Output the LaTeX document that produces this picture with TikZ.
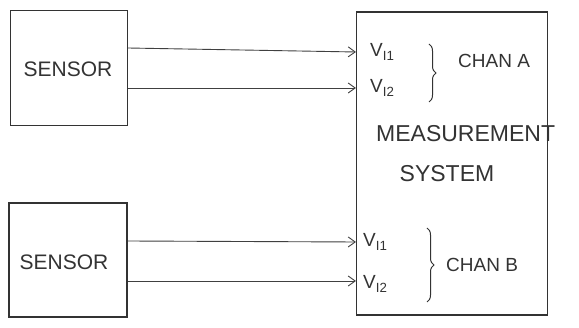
\documentclass[tikz,border=0pt]{standalone}
\usepackage{fontspec}
\setmainfont{Liberation Sans}
\usetikzlibrary{arrows.meta,decorations.pathreplacing}
\begin{document}
\begin{tikzpicture}[x=1pt,y=-1pt,
  ink/.style={draw=black!80, line width=1.1pt},
  box/.style={ink, rectangle, inner sep=0pt},
  wire/.style={draw=black!75, line width=0.9pt, -{Straight Barb[length=7pt,width=10pt,line width=0.9pt]}},
  lbl/.style={text=black!80, font=\fontsize{19}{21}\selectfont, inner sep=0pt},
  sub/.style={text=black!80, font=\fontsize{19}{21}\selectfont, inner sep=0pt},
  brc/.style={draw=black!80, line width=1pt, decorate, decoration={brace, amplitude=7pt}}]
\useasboundingbox (0,0) rectangle (579,328);
\fill[white] (0,0) rectangle (579,328);
% boxes
\node[box, minimum width=117pt, minimum height=115pt] (s1) at (69,68) {};
\node[box, minimum width=118pt, minimum height=114pt] (s2) at (68,260) {};
\node[box, minimum width=191pt, minimum height=303pt] (m) at (452,163.5) {};
% sensor texts
\node[lbl, font=\fontsize{21}{23}\selectfont] (t1) at (68,69) {SENSOR};
\node[lbl, font=\fontsize{21}{23}\selectfont] (t2) at (64,262) {SENSOR};
% wires
\draw[wire] ([yshift=20pt]s1.east) -- (m.west |- 0,52);
\draw[wire] ([yshift=-20pt]s1.east) -- (m.west |- 0,88);
\draw[wire] ([yshift=19pt]s2.east) -- (m.west |- 0,242);
\draw[wire] ([yshift=-21pt]s2.east) -- (m.west |- 0,281);
% channel A
\node[sub, anchor=west] (va1) at (370,52) {V\textsubscript{I1}};
\node[sub, anchor=west] (va2) at (370,88) {V\textsubscript{I2}};
\draw[brc] (429,44) -- (429,102);
\node[lbl, anchor=west] (ca) at (458,61) {CHAN A};
% measurement system
\node[lbl, font=\fontsize{23}{25}\selectfont, anchor=west] (ms1) at (376,134) {MEASUREMENT};
\node[lbl, font=\fontsize{23}{25}\selectfont] (ms2) at (447,174) {SYSTEM};
% channel B
\node[sub, anchor=west] (vb1) at (363,242) {V\textsubscript{I1}};
\node[sub, anchor=west] (vb2) at (363,284) {V\textsubscript{I2}};
\draw[brc] (427,228) -- (427,302);
\node[lbl, anchor=west] (cb) at (446,265) {CHAN B};
\end{tikzpicture}
\end{document}
